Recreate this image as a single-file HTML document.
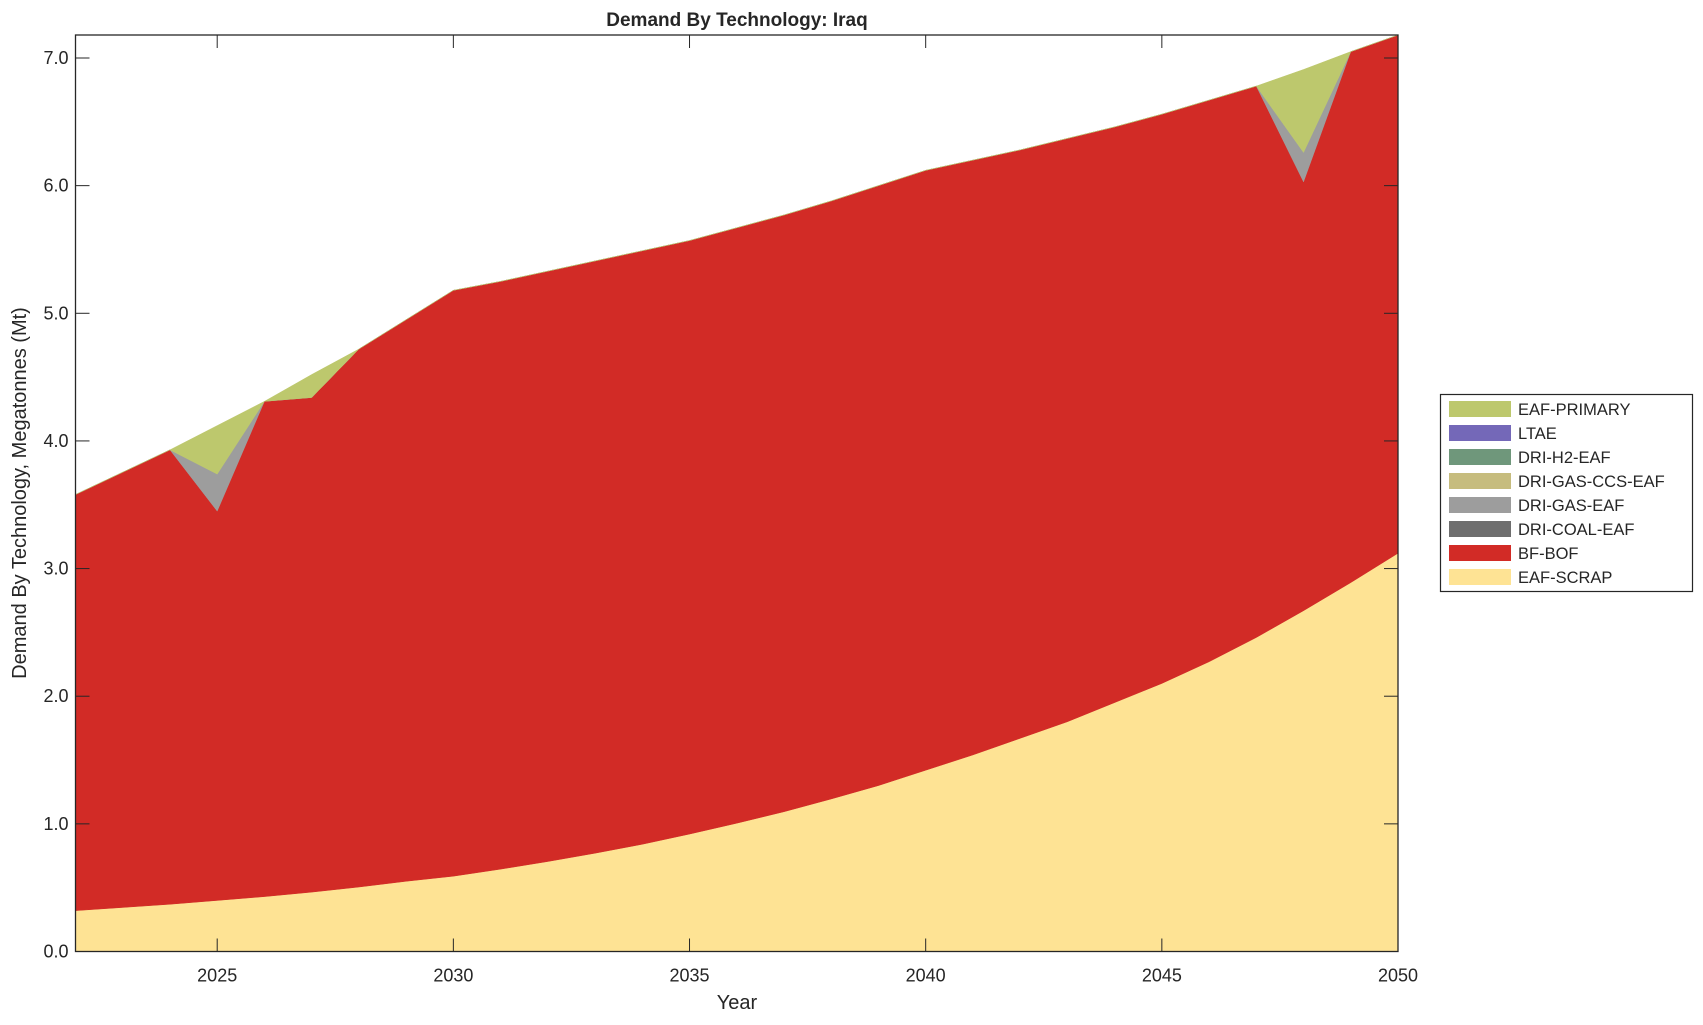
<!DOCTYPE html>
<html><head><meta charset="utf-8"><style>
html,body{margin:0;padding:0;background:#fff;}
svg text{font-family:"Liberation Sans",Arial,sans-serif;fill:#262626;}
</style></head><body>
<svg id="s" width="1703" height="1020" xmlns="http://www.w3.org/2000/svg"></svg>
<script>
const X0=75.5,X1=1398,Y0=951.5,YT=35,PY=(951.5-58)/7;
const px=y=>X0+(y-2022)*(X1-X0)/28, py=v=>Y0-v*PY;
const yrs=[];for(let y=2022;y<=2050;y++)yrs.push(y);
const scrap=[.32,.345,.37,.40,.43,.465,.505,.55,.59,.645,.705,.77,.84,.92,1.005,1.095,1.195,1.30,1.42,1.54,1.67,1.80,1.95,2.10,2.27,2.46,2.67,2.89,3.12];
const total=[3.58,3.755,3.93,4.12,4.31,4.52,4.72,4.95,5.18,5.25,5.33,5.41,5.49,5.57,5.67,5.77,5.88,6.0,6.12,6.2,6.28,6.37,6.46,6.56,6.67,6.78,6.91,7.05,7.18];
const red=total.slice();red[3]=3.45;red[5]=4.34;red[26]=6.03;
const gray=red.slice();gray[3]=3.74;gray[26]=6.26;
function area(lo,hi,c){let p=yrs.map((y,i)=>px(y)+','+py(hi[i]));for(let i=yrs.length-1;i>=0;i--)p.push(px(yrs[i])+','+py(lo[i]));return `<polygon points="${p.join(' ')}" fill="${c}" stroke="${c}" stroke-width="0.5"/>`;}
const zero=yrs.map(()=>0);
let h='';
h+=area(zero,scrap,'#fee394');
h+=area(scrap,red,'#d22b26');
h+=area(red,gray,'#9d9d9d');
h+=area(gray,total,'#bdc86d');
h+=`<rect x="${X0}" y="${YT}" width="${X1-X0}" height="${Y0-YT}" fill="none" stroke="#262626" stroke-width="1.3"/>`;
for(let v=0;v<=7;v++){const y=py(v);h+=`<line x1="${X0}" y1="${y}" x2="${X0+14}" y2="${y}" stroke="#262626"/><line x1="${X1}" y1="${y}" x2="${X1-14}" y2="${y}" stroke="#262626"/><text x="${X0-7}" y="${y+6}" font-size="18" text-anchor="end">${v.toFixed(1)}</text>`;}
for(let yr=2025;yr<=2050;yr+=5){const x=px(yr);h+=`<line x1="${x}" y1="${Y0}" x2="${x}" y2="${Y0-13}" stroke="#262626"/><line x1="${x}" y1="${YT}" x2="${x}" y2="${YT+13}" stroke="#262626"/><text x="${x}" y="${Y0+30}" font-size="18" text-anchor="middle">${yr}</text>`;}
h+=`<text x="737" y="26" font-size="19" font-weight="bold" text-anchor="middle" fill="#000">Demand By Technology: Iraq</text>`;
h+=`<text x="737" y="1009" font-size="20" text-anchor="middle">Year</text>`;
h+=`<text transform="translate(26,493) rotate(-90)" font-size="20" text-anchor="middle">Demand By Technology, Megatonnes (Mt)</text>`;
h+=`<rect x="1440.5" y="394.5" width="252" height="197" fill="#fff" stroke="#262626" stroke-width="1.2"/>`;
const L=[['EAF-PRIMARY','#bdc86d'],['LTAE','#7468b8'],['DRI-H2-EAF','#6f977b'],['DRI-GAS-CCS-EAF','#c6bc7e'],['DRI-GAS-EAF','#9d9d9d'],['DRI-COAL-EAF','#6e6e6e'],['BF-BOF','#d22b26'],['EAF-SCRAP','#fee394']];
L.forEach((l,i)=>{const cy=409+i*24;h+=`<rect x="1449" y="${cy-8}" width="62" height="16" fill="${l[1]}"/><text x="1518" y="${cy+6}" font-size="16.5">${l[0]}</text>`;});
document.getElementById('s').innerHTML=h;
</script>
</body></html>
